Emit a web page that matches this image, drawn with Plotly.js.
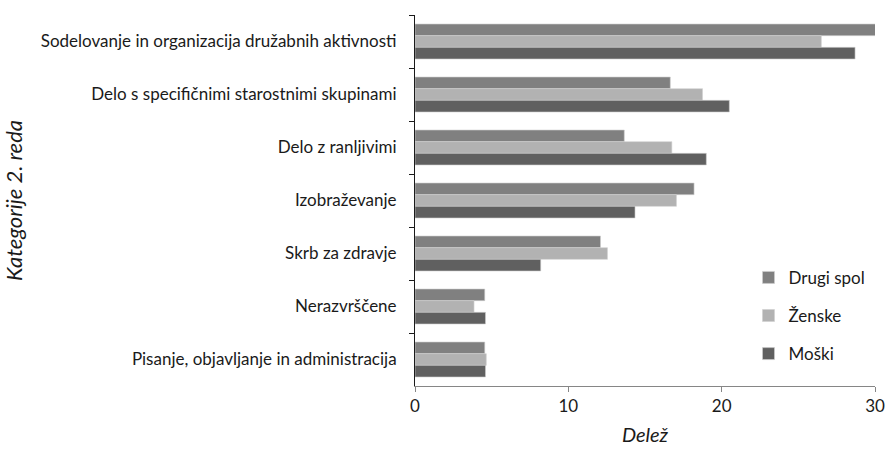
<!DOCTYPE html>
<html>
<head>
<meta charset="utf-8">
<script src="https://cdn.plot.ly/plotly-3.0.1.min.js"></script>
<style>html,body{margin:0;padding:0;background:#fff;}#chart{width:886px;height:455px;}</style>
</head>
<body>
<div id="chart"></div>
<script>
const categories = [
  "Sodelovanje in organizacija družabnih aktivnosti",
  "Delo s specifičnimi starostnimi skupinami",
  "Delo z ranljivimi",
  "Izobraževanje",
  "Skrb za zdravje",
  "Nerazvrščene",
  "Pisanje, objavljanje in administracija"
];
const seriesNames = ["Drugi spol", "Ženske", "Moški"];
const drugiSpol = [30.1, 16.65, 13.65, 18.2, 12.1, 4.55, 4.55];
const zenske    = [26.5, 18.75, 16.75, 17.05, 12.55, 3.85, 4.65];
const moski     = [28.7, 20.5, 19.0, 14.35, 8.2, 4.6, 4.6];
const colors = ["#808080", "#b2b2b2", "#606060"];

const values = [drugiSpol, zenske, moski];
const traces = values.map((v, i) => ({
  type: "bar",
  orientation: "h",
  name: seriesNames[i],
  y: categories,
  x: v,
  marker: {color: colors[i], line: {color: "#d0d0d0", width: 0.6}},
  legendgroup: "g" + i,
  hoverinfo: "x+name"
}));

const font = "Lato, Open Sans, sans-serif";
const layout = {
  width: 886, height: 455,
  margin: {l: 415, r: 11, t: 15, b: 69, autoexpand: false},
  paper_bgcolor: "#fff", plot_bgcolor: "#fff",
  font: {family: font, size: 17, color: "#1a1a1a"},
  barmode: "group",
  bargap: 0.34,
  bargroupgap: 0,
  showlegend: true,
  legend: {
    x: 0.725, y: 0.34, xanchor: "left", yanchor: "top",
    bgcolor: "rgba(0,0,0,0)",
    font: {family: font, size: 17, color: "#1a1a1a"},
    tracegroupgap: 13,
    itemwidth: 30
  },
  xaxis: {
    range: [0, 30],
    tickvals: [0, 10, 20, 30],
    ticktext: ["0", "10", "20", "30"],
    automargin: false,
    showgrid: false, zeroline: false,
    showline: true, linecolor: "#868686", linewidth: 1,
    ticks: "outside", ticklen: 5, tickcolor: "#868686",
    tickfont: {family: font, size: 17, color: "#1a1a1a"},
    title: {text: "Delež", font: {family: font, size: 20, color: "#1a1a1a", style: "italic"}, standoff: 12},
    fixedrange: true
  },
  yaxis: {
    type: "category",
    autorange: "reversed",
    automargin: false,
    showgrid: false, zeroline: false,
    showline: true, linecolor: "#1a1a1a", linewidth: 1,
    ticks: "outside", ticklen: 5, tickcolor: "#1a1a1a",
    tickson: "boundaries",
    ticklabelstandoff: 14,
    tickfont: {family: font, size: 17, color: "#1a1a1a"},
    title: {text: "Kategorije 2. reda", font: {family: font, size: 22, color: "#1a1a1a", style: "italic"}, standoff: 265},
    fixedrange: true
  }
};

Plotly.newPlot("chart", traces, layout, {displayModeBar: false, staticPlot: true});
</script>
</body>
</html>
